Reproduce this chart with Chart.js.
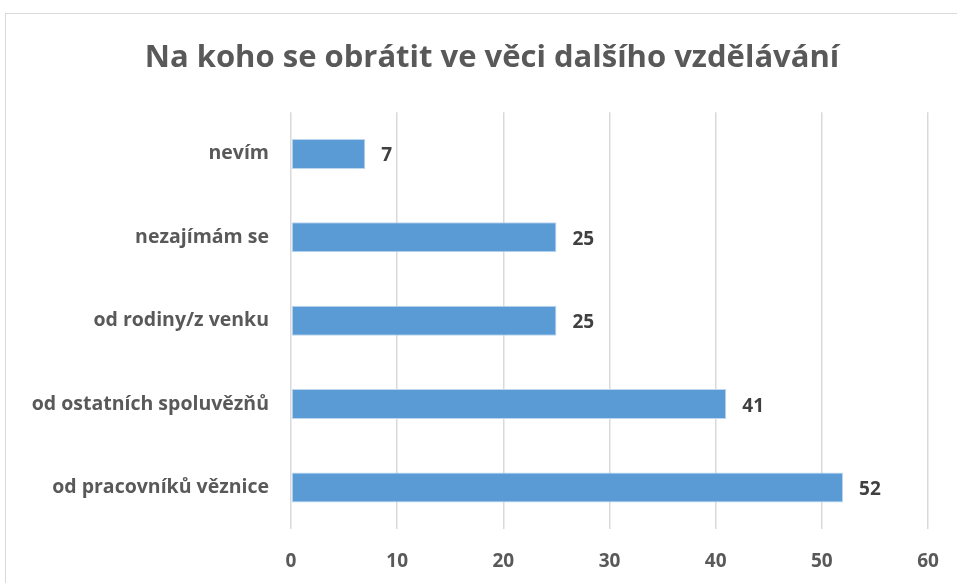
<!DOCTYPE html>
<html>
<head>
<meta charset="utf-8">
<script src="https://cdn.jsdelivr.net/npm/chart.js@4/dist/chart.umd.min.js"></script>
<style>
  html, body { margin: 0; padding: 0; background: #fff; overflow: hidden; }
  #frame {
    position: absolute; left: 5px; top: 13px;
    width: 960px; height: 580px;
    border: 1px solid #d9d9d9; background: #fff;
  }
  #chart { display: block; }
</style>
</head>
<body>
<div id="frame"><canvas id="chart" width="960" height="580"></canvas></div>
<script>
// chart data
const chartTitle = 'Na koho se obrátit ve věci dalšího vzdělávání';
const categories = ['nevím', 'nezajímám se', 'od rodiny/z venku', 'od ostatních spoluvězňů', 'od pracovníků věznice'];
const counts = [7, 25, 25, 41, 52];
const xTicks = [0, 10, 20, 30, 40, 50, 60];

const FONT = '"Open Sans", "DejaVu Sans", sans-serif';

// value labels at the end of each bar
const barValueLabels = {
    id: 'barValueLabels',
    afterDatasetsDraw(chart) {
        const ctx = chart.ctx;
        const meta = chart.getDatasetMeta(0);
        ctx.save();
        ctx.font = 'bold 19px ' + FONT;
        ctx.fillStyle = '#404040';
        ctx.textAlign = 'left';
        ctx.textBaseline = 'middle';
        meta.data.forEach(function(bar, i) {
            ctx.fillText(String(counts[i]), bar.x + 16, bar.y + 2);
        });
        ctx.restore();
    }
};

// the original title is centred a bit right of the canvas middle
const shiftTitle = {
    id: 'shiftTitle',
    afterLayout(chart) {
        if (chart.titleBlock) chart.titleBlock.left = 50;
    }
};

document.addEventListener('DOMContentLoaded', function() {
    const ctx = document.getElementById('chart').getContext('2d');
    new Chart(ctx, {
        type: 'bar',
        data: {
            labels: categories,
            datasets: [{
                data: counts,
                backgroundColor: '#5b9bd5',
                borderColor: '#bdd7ee',
                borderWidth: 1,
                borderSkipped: false,
                barPercentage: 0.36,
                categoryPercentage: 1.0
            }]
        },
        options: {
            indexAxis: 'y',
            responsive: false,
            animation: false,
            layout: { padding: { left: 0, right: 38, top: 0, bottom: 0 } },
            plugins: {
                legend: { display: false },
                tooltip: { enabled: false },
                title: {
                    display: true,
                    text: chartTitle,
                    color: '#595959',
                    font: { family: FONT, size: 31, weight: 'bold' },
                    padding: { top: 26, bottom: 35 }
                }
            },
            scales: {
                x: {
                    min: 0,
                    max: 60,
                    afterBuildTicks(axis) { axis.ticks = xTicks.map(v => ({ value: v })); },
                    grid: { color: '#d9d9d9', lineWidth: 1.5, drawTicks: false },
                    border: { display: false },
                    ticks: {
                        color: '#595959',
                        padding: 21,
                        font: { family: FONT, size: 19, weight: 'bold' }
                    }
                },
                y: {
                    afterFit(axis) { axis.width = 285; },
                    grid: { display: false },
                    border: { display: false },
                    ticks: {
                        color: '#595959',
                        padding: 14,
                        font: { family: FONT, size: 19.5, weight: 'bold' }
                    }
                }
            }
        },
        plugins: [barValueLabels, shiftTitle]
    });
});
</script>
</body>
</html>
